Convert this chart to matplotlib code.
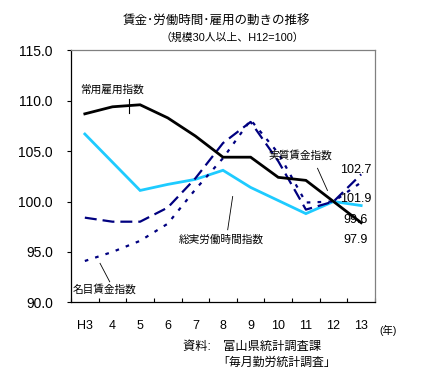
import matplotlib
matplotlib.use('Agg')
import matplotlib.pyplot as plt
import numpy as np

plt.rcParams['font.family'] = ['Liberation Sans', 'Noto Sans CJK JP']
plt.rcParams['lines.scale_dashes'] = False

# data (H12 = 100)
years = ['H3', '4', '5', '6', '7', '8', '9', '10', '11', '12', '13']
employment = [108.7, 109.4, 109.6, 108.3, 106.5, 104.4, 104.4, 102.4, 102.1, 100.0, 97.9]   # 常用雇用指数
hours = [106.7, 103.9, 101.1, 101.7, 102.2, 103.1, 101.4, 100.1, 98.8, 100.0, 99.6]         # 総実労働時間指数
nominal = [94.1, 95.0, 96.1, 97.8, 101.2, 104.3, 108.1, 104.8, 99.9, 100.0, 101.9]         # 名目賃金指数
real = [98.4, 98.0, 98.0, 99.4, 102.3, 105.8, 107.9, 104.0, 99.2, 100.0, 102.7]            # 実質賃金指数

x = np.arange(len(years))

fig = plt.figure(figsize=(4.32, 3.73), dpi=100)
ax = fig.add_axes([0.1644, 0.1895, 0.7036, 0.6755])

ax.plot(x, hours, color='#1ECBFF', lw=2.0, solid_joinstyle='miter')
ax.plot(x, real, color='#000080', lw=1.6, dashes=(8.6, 4.3))
ax.plot(x, nominal, color='#000080', lw=1.6, dashes=(2.6, 5.2))
ax.plot(x, employment, color='black', lw=2.0, solid_joinstyle='miter')

ax.set_xlim(-0.5, 10.5)
ax.set_ylim(90, 115)
ax.set_yticks([90, 95, 100, 105, 110, 115])
ax.set_yticklabels(['%.1f' % v for v in [90, 95, 100, 105, 110, 115]], fontsize=10)
ax.set_xticks(x)
ax.set_xticklabels(years, fontsize=9)
ax.set_xticks(np.arange(-0.5, 11, 1), minor=True)
ax.tick_params(axis='x', which='major', length=0, pad=13)
ax.tick_params(axis='x', which='minor', direction='in', length=3, width=0.8)
ax.tick_params(axis='y', direction='out', length=3, width=0.8, pad=10)

for s in ['top', 'right']:
    ax.spines[s].set_color('#808080')
for s in ax.spines.values():
    s.set_linewidth(0.9)

# series labels and leader lines
ax.text(0.98, 111.06, '常用雇用指数', fontsize=7.7, ha='center', va='center')
ax.plot([1.6, 1.6], [110.15, 108.75], color='black', lw=0.8)
ax.text(7.79, 104.6, '実質賃金指数', fontsize=7.7, ha='center', va='center')
ax.plot([8.42, 8.78], [103.3, 101.1], color='black', lw=0.6)
ax.text(4.95, 96.2, '総実労働時間指数', fontsize=7.7, ha='center', va='center')
ax.plot([5.35, 5.17], [100.5, 97.2], color='black', lw=0.6)
ax.text(0.73, 91.3, '名目賃金指数', fontsize=7.7, ha='center', va='center')
ax.plot([0.55, 0.9], [93.87, 92.04], color='black', lw=0.6)

# values for H13
ax.text(9.81, 103.1, '%.1f' % real[-1], fontsize=9, ha='center', va='center')
ax.text(9.81, 100.25, '%.1f' % nominal[-1], fontsize=9, ha='center', va='center')
ax.text(9.81, 98.2, '%.1f' % hours[-1], fontsize=9, ha='center', va='center')
ax.text(9.81, 96.2, '%.1f' % employment[-1], fontsize=9, ha='center', va='center')

fig.text(0.5, 0.942, '賃金･労働時間･雇用の動きの推移', fontsize=9, ha='center', va='center')
fig.text(0.537, 0.898, '（規模30人以上、H12=100）', fontsize=7.8, ha='center', va='center')
fig.text(0.898, 0.115, '(年)', fontsize=7.5, ha='center', va='center')
fig.text(0.424, 0.070, '資料:　富山県統計調査課', fontsize=8.8, ha='left', va='center')
fig.text(0.502, 0.027, '「毎月勤労統計調査」', fontsize=8.6, ha='left', va='center')

plt.savefig('out.png', dpi=100)
